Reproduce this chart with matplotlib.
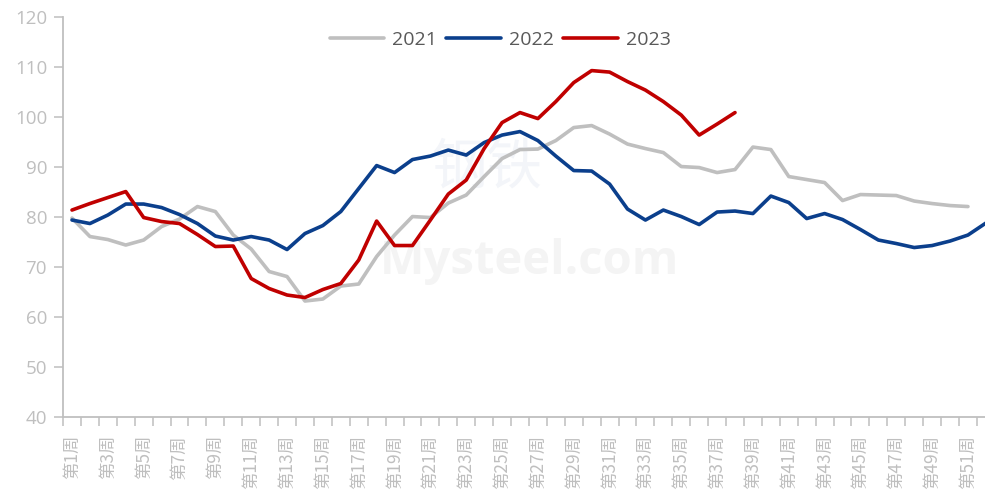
#!/usr/bin/env python3

import matplotlib

matplotlib.use("Agg")
import matplotlib.pyplot as plt
from matplotlib.ticker import FixedLocator, NullFormatter

plt.rcParams["font.family"] = ["Open Sans", "Noto Sans CJK SC", "DejaVu Sans"]

WEEKS = list(range(1, 53))
WEEK_LABELS = [f"第{w}周" for w in WEEKS]

Y2021 = [79.8, 76.1, 75.5, 74.4, 75.4, 78.1, 79.6, 82.1, 81.1, 76.4,
         73.6, 69.1, 68.1, 63.2, 63.6, 66.2, 66.6, 72.1, 76.4, 80.1,
         79.9, 82.8, 84.4, 88.1, 91.7, 93.5, 93.6, 95.3, 97.9, 98.3,
         96.6, 94.6, 93.7, 92.9, 90.1, 89.9, 88.9, 89.5, 94.0, 93.5,
         88.1, 87.5, 86.9, 83.3, 84.5, 84.4, 84.3, 83.2, 82.7, 82.3,
         82.1]
Y2022 = [79.4, 78.7, 80.4, 82.6, 82.6, 81.9, 80.5, 78.7, 76.2, 75.4,
         76.1, 75.4, 73.5, 76.7, 78.3, 81.1, 85.7, 90.3, 88.9, 91.5,
         92.2, 93.4, 92.4, 94.9, 96.4, 97.1, 95.3, 92.2, 89.3, 89.2,
         86.6, 81.6, 79.4, 81.4, 80.1, 78.5, 81.0, 81.2, 80.7, 84.2,
         82.9, 79.7, 80.7, 79.5, 77.5, 75.4, 74.7, 73.9, 74.3, 75.2,
         76.4, 78.8]
Y2023 = [81.4, 82.7, 83.9, 85.1, 79.9, 79.1, 78.7, 76.5, 74.1, 74.2,
         67.7, 65.7, 64.4, 63.9, 65.5, 66.7, 71.4, 79.2, 74.3, 74.3,
         79.4, 84.6, 87.4, 93.7, 98.9, 100.9, 99.7, 103.1, 106.9, 109.3,
         109.0, 107.1, 105.4, 103.1, 100.4, 96.4, 98.6, 100.9]

SERIES = [
    ("2021", Y2021, "#bfbfbf"),
    ("2022", Y2022, "#0b3f8c"),
    ("2023", Y2023, "#c00000"),
]

AXIS_GREY = "#bfbfbf"


def main() -> None:
    fig = plt.figure(figsize=(9.85, 5.03), dpi=100)
    # category axis runs slightly past the right edge of the canvas
    ax = fig.add_axes([0.064, 0.171, 0.946, 0.795])

    # faint site watermark behind the lines
    ax.text(0.50, 0.39, "Mysteel.com", transform=ax.transAxes, ha="center",
            va="center", fontsize=34, fontweight="bold", color="#f4f4f4",
            zorder=0)
    ax.text(0.455, 0.62, "钢铁", transform=ax.transAxes, ha="center",
            va="center", fontsize=40, color="#f3f5f9", zorder=0,
            family=["Noto Sans CJK SC"])

    for label, values, color in SERIES:
        ax.plot(WEEKS[:len(values)], values, color=color, linewidth=2.6,
                label=label, solid_joinstyle="round", solid_capstyle="round",
                zorder=3)

    ax.set_xlim(0.5, 52.5)
    ax.set_ylim(40, 120)
    ax.set_yticks(range(40, 121, 10))

    # labels on odd weeks, tick marks between categories
    ax.set_xticks(WEEKS[::2])
    ax.set_xticklabels(WEEK_LABELS[::2], rotation=90, fontsize=12.5,
                       color=AXIS_GREY, family=["Noto Sans CJK SC"])
    ax.xaxis.set_minor_locator(FixedLocator([w + 0.5 for w in range(0, 53)]))
    ax.xaxis.set_minor_formatter(NullFormatter())
    ax.tick_params(axis="x", which="major", length=0, pad=13)
    ax.tick_params(axis="x", which="minor", length=6.5, width=1.1,
                   color=AXIS_GREY)
    ax.tick_params(axis="y", length=6.5, width=1.1, color=AXIS_GREY,
                   labelcolor=AXIS_GREY, labelsize=13.5, pad=5)

    for side in ("top", "right"):
        ax.spines[side].set_visible(False)
    for side in ("left", "bottom"):
        ax.spines[side].set_color(AXIS_GREY)
        ax.spines[side].set_linewidth(1.3)

    legend = fig.legend(loc="center", bbox_to_anchor=(0.5076, 0.921), ncol=3,
                        frameon=False, fontsize=14, handlelength=2.8,
                        handletextpad=0.4, columnspacing=0.5)
    for text in legend.get_texts():
        text.set_color("#595959")

    fig.savefig("out.png", dpi=100)
    plt.close(fig)


if __name__ == "__main__":
    main()
